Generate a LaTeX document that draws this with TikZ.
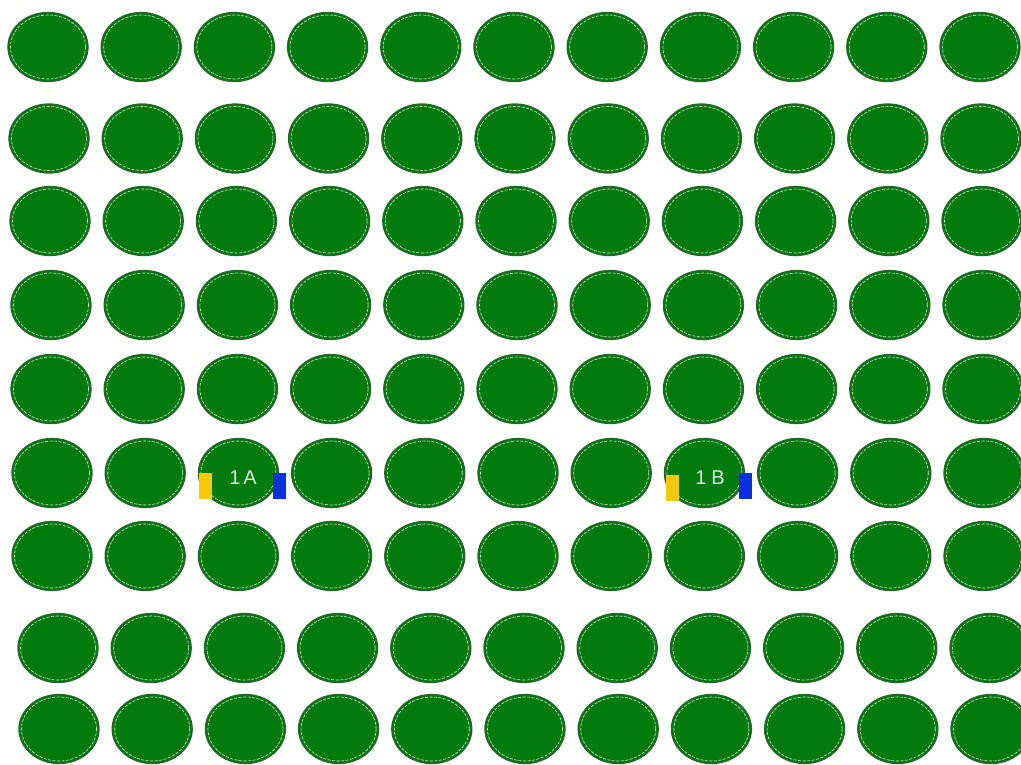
\documentclass[tikz,border=0pt]{standalone}
\usepackage{fontspec}
\setmainfont{Liberation Sans}
\usetikzlibrary{shapes.geometric}
\definecolor{dotfill}{RGB}{2,122,14}
\definecolor{dotedge}{RGB}{38,100,40}
\definecolor{dashwhite}{RGB}{215,235,215}
\definecolor{tagyellow}{RGB}{246,200,10}
\definecolor{tagblue}{RGB}{10,48,225}
\begin{document}
\begin{tikzpicture}[x=1pt,y=-1pt,
  dot/.style={ellipse, minimum width=80pt, minimum height=69pt, inner sep=0pt, fill=dotfill, draw=dotedge, line width=1.3pt},
  rim/.style={draw=dashwhite, line width=0.6pt, dash pattern=on 3pt off 1.5pt},
  tag/.style={minimum width=13pt, minimum height=26pt, inner sep=0pt, draw=none},
  lbl/.style={text=dashwhite, font=\fontsize{20}{20}\selectfont, inner sep=0pt}]
\useasboundingbox (0,0) rectangle (1021,764);
\fill[white] (0,0) rectangle (1021,764);
\foreach \r/\y/\xo in {1/47/48, 2/138.5/49, 3/221/50, 4/305/51, 5/389/51, 6/473/52, 7/556/52, 8/648/58, 9/729/59} {
  \foreach \c in {1,...,11} {
    \node[dot] (e\r-\c) at ({\xo+93.2*(\c-1)}, \y) {};
    \draw[rim] (e\r-\c.center) ellipse [x radius=37.5pt, y radius=32pt];
  }
}
\node[lbl] (t1A) at (243,478) {1\hspace{3pt}A};
\node[lbl] (t1B) at (710,478) {1\hspace{5pt}B};
\node[tag, fill=tagyellow] (yA) at (205.5,486) {};
\node[tag, fill=tagblue] (bA) at (279.5,485.5) {};
\node[tag, fill=tagyellow] (yB) at (672,488) {};
\node[tag, fill=tagblue] (bB) at (745.5,486) {};
\end{tikzpicture}
\end{document}
